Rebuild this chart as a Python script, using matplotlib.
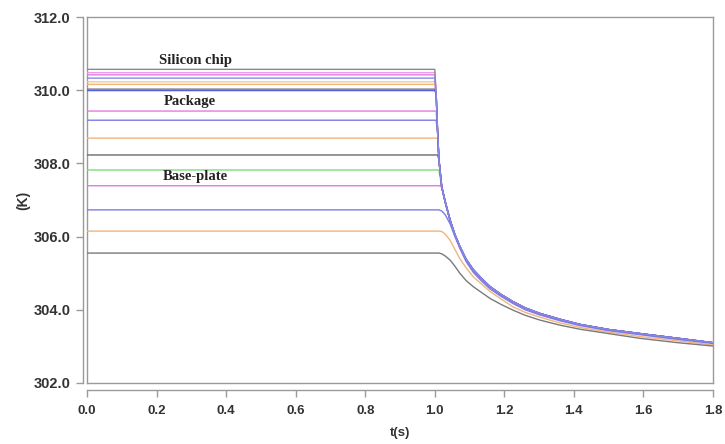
import matplotlib
matplotlib.use("Agg")
import matplotlib.pyplot as plt
from matplotlib.lines import Line2D

# Steady temperature of each monitored node before switch-off (K), lowest first
levels = [305.55, 306.15, 306.73, 307.39, 307.82, 308.23, 308.69, 309.18, 309.43,
          309.99, 310.03, 310.16, 310.23, 310.33, 310.42, 310.48, 310.57]
line_colors = ["#7a7a7a", "#f2b47a", "#7c7ce6", "#e27ae2", "#7cdc7c", "#6a6a6a",
               "#f2b47a", "#7c7ce6", "#e27ae2", "#5a5ae0", "#7a7a7a", "#f2b47a",
               "#f5c89a", "#8a8ae8", "#e27ae2", "#ee9aee", "#8a8a8a"]

# Cool-down after the power is cut at t = 1.0 s
t_decay = [1.000, 1.004, 1.008, 1.012, 1.020, 1.030, 1.044, 1.058, 1.072, 1.090,
           1.111, 1.135, 1.159, 1.190, 1.225, 1.260, 1.302, 1.360, 1.417, 1.500,
           1.590, 1.700, 1.800]
# common cooling curve followed by the hotter nodes
envelope = [310.60, 309.90, 308.90, 308.10, 307.36, 306.95, 306.45, 306.05, 305.73,
            305.38, 305.09, 304.85, 304.63, 304.42, 304.22, 304.05, 303.90, 303.74,
            303.60, 303.46, 303.35, 303.22, 303.10]
# the coolest nodes leave the common curve
decay_gray = [305.55, 305.55, 305.55, 305.55, 305.53, 305.47, 305.36, 305.19, 305.00,
              304.80, 304.63, 304.47, 304.31, 304.15, 303.99, 303.85, 303.72, 303.58,
              303.47, 303.35, 303.22, 303.10, 303.01]
decay_orange = [306.15, 306.15, 306.15, 306.15, 306.14, 306.07, 305.90, 305.65, 305.40,
                305.15, 304.90, 304.70, 304.50, 304.30, 304.08, 303.93, 303.80, 303.64,
                303.52, 303.39, 303.27, 303.15, 303.04]
decay_blue = [306.73, 306.73, 306.73, 306.73, 306.70, 306.60, 306.35, 306.00, 305.68,
              305.32, 305.02, 304.78, 304.57, 304.37, 304.17, 304.00, 303.86, 303.70,
              303.57, 303.43, 303.32, 303.19, 303.08]
lower_decays = [decay_gray, decay_orange, decay_blue]

x_ticks = [0.0, 0.2, 0.4, 0.6, 0.8, 1.0, 1.2, 1.4, 1.6, 1.8]
y_ticks = [302.0, 304.0, 306.0, 308.0, 310.0, 312.0]


def stack_order(col):
    # darker blues and greys sit on top where the curves overlap
    if col in ("#5a5ae0", "#7c7ce6", "#8a8ae8"):
        return 4
    if col in ("#6a6a6a", "#7a7a7a", "#8a8a8a"):
        return 3
    return 2


fig = plt.figure(figsize=(7.25, 4.44), dpi=100)
ax = fig.add_axes([0.12, 0.1374, 0.8634, 0.8243])

for i, (lev, col) in enumerate(zip(levels, line_colors)):
    if i < len(lower_decays):
        tail = lower_decays[i]
    else:
        tail = [min(lev, v) for v in envelope]
    ts = [0.0] + t_decay
    vs = [lev] + tail
    ax.plot(ts, vs, color=col, lw=1.0, solid_joinstyle="round",
            zorder=stack_order(col) + i * 0.01)

ax.set_xlim(0.0, 1.8)
ax.set_ylim(302.0, 312.0)
ax.set_xticks(x_ticks)
ax.set_yticks(y_ticks)
ax.set_xticklabels([f"{v:.1f}" for v in x_ticks])
ax.set_yticklabels([f"{v:.1f}" for v in y_ticks])

spine_col = "#9a9a9a"
for s in ax.spines.values():
    s.set_color(spine_col)
    s.set_linewidth(1.0)
ax.spines["bottom"].set_position(("outward", 5))
ax.spines["left"].set_position(("outward", 3))
# inner frame lines of the plot box
ax.add_line(Line2D([0, 1], [0, 0], transform=ax.transAxes, color=spine_col, lw=1.0, clip_on=False))
ax.add_line(Line2D([0, 0], [0, 1], transform=ax.transAxes, color=spine_col, lw=1.0, clip_on=False))

ax.tick_params(axis="both", direction="out", length=5, width=1.0, color=spine_col,
               labelcolor="#333333")
ax.tick_params(axis="x", pad=6, labelsize=9.5)
ax.tick_params(axis="y", pad=4, labelsize=10.5)
for lbl in ax.get_xticklabels() + ax.get_yticklabels():
    lbl.set_fontfamily("Liberation Sans")
    lbl.set_fontweight("bold")

ax.set_xlabel("t(s)", fontsize=9.5, fontweight="bold", color="#333333",
              fontfamily="Liberation Sans", labelpad=7)
ax.set_ylabel("(K)", fontsize=10, fontweight="bold", color="#333333",
              fontfamily="Liberation Sans", labelpad=2)

note_kw = dict(fontsize=10.5, fontweight="bold", color="#222222",
               fontfamily="Liberation Serif", ha="center", va="center")
ax.text(0.313, 310.80, "Silicon chip", **note_kw)
ax.text(0.296, 309.68, "Package", **note_kw)
ax.text(0.31, 307.63, "Base-plate", **note_kw)

fig.savefig("out.png", dpi=100)
